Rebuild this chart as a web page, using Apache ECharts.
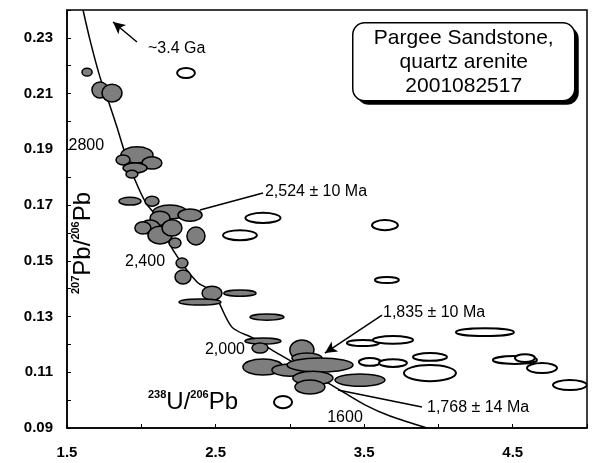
<!DOCTYPE html>
<html>
<head>
<meta charset="utf-8">
<script src="https://cdn.jsdelivr.net/npm/echarts@6/dist/echarts.min.js"></script>
<style>
  html, body { margin: 0; padding: 0; background: #fff; }
  #chart { width: 599px; height: 463px; }
</style>
</head>
<body>
<div id="chart"></div>
<script>
// spots: [238U/206Pb, 207Pb/206Pb, half width x, half width y]
var filledSpots = [
  [1.635, 0.2177, 0.034, 0.0014], [1.722, 0.2113, 0.054, 0.0029], [1.803, 0.2102, 0.067, 0.0032],
  [1.971, 0.1880, 0.108, 0.0029], [1.877, 0.1862, 0.047, 0.0018], [2.072, 0.1851, 0.067, 0.0022],
  [1.958, 0.1833, 0.081, 0.0018], [1.937, 0.1811, 0.040, 0.0014],
  [1.924, 0.1714, 0.074, 0.0014], [2.072, 0.1714, 0.047, 0.0018],
  [2.193, 0.1675, 0.114, 0.0025], [2.328, 0.1664, 0.081, 0.0022], [2.126, 0.1653, 0.067, 0.0025],
  [2.059, 0.1621, 0.067, 0.0025], [2.011, 0.1618, 0.054, 0.0022], [2.126, 0.1592, 0.081, 0.0032],
  [2.207, 0.1618, 0.067, 0.0029], [2.227, 0.1564, 0.040, 0.0018], [2.368, 0.1589, 0.061, 0.0032],
  [2.274, 0.1492, 0.040, 0.0018], [2.281, 0.1442, 0.054, 0.0025], [2.476, 0.1384, 0.067, 0.0025],
  [2.395, 0.1352, 0.141, 0.0011], [2.664, 0.1384, 0.108, 0.0011], [2.846, 0.1298, 0.114, 0.0011],
  [2.819, 0.1212, 0.121, 0.0011], [2.799, 0.1187, 0.054, 0.0018], [3.081, 0.1180, 0.081, 0.0036],
  [2.819, 0.1119, 0.135, 0.0029], [3.000, 0.1108, 0.121, 0.0022], [3.115, 0.1151, 0.101, 0.0018],
  [3.203, 0.1126, 0.222, 0.0025], [3.155, 0.1079, 0.135, 0.0025], [3.135, 0.1047, 0.101, 0.0025],
  [3.472, 0.1072, 0.168, 0.0022]
];
var openSpots = [
  [2.301, 0.2174, 0.060, 0.0018], [2.819, 0.1654, 0.118, 0.0018], [2.664, 0.1592, 0.114, 0.0018],
  [3.640, 0.1628, 0.087, 0.0018], [3.653, 0.1431, 0.081, 0.0011], [2.954, 0.0993, 0.061, 0.0022],
  [3.539, 0.1137, 0.074, 0.0014], [3.694, 0.1133, 0.094, 0.0014], [3.492, 0.1205, 0.108, 0.0011],
  [3.694, 0.1216, 0.135, 0.0014], [4.313, 0.1244, 0.195, 0.0014], [3.943, 0.1155, 0.114, 0.0014],
  [3.943, 0.1097, 0.175, 0.0029], [4.515, 0.1144, 0.148, 0.0014], [4.582, 0.1151, 0.067, 0.0014],
  [4.697, 0.1115, 0.101, 0.0018], [4.885, 0.1054, 0.114, 0.0018]
];
// concordia curve
var concordia = [
  [1.608, 0.2400], [1.655, 0.2292], [1.722, 0.2159], [1.776, 0.2077], [1.836, 0.1980],
  [1.890, 0.1887], [1.958, 0.1790], [2.032, 0.1707], [2.106, 0.1657], [2.213, 0.1539],
  [2.375, 0.1424], [2.483, 0.1388], [2.610, 0.1262], [2.752, 0.1223], [2.900, 0.1173],
  [3.068, 0.1122], [3.203, 0.1079], [3.337, 0.1036], [3.505, 0.0983], [3.674, 0.0943],
  [3.923, 0.0900]
];
var leaderLines = [
  [[2.395, 0.1682], [2.819, 0.1743]],
  [[3.324, 0.1036], [3.889, 0.0975]]
];
var arrowLines = [
  [[1.971, 0.2285], [1.810, 0.2357]],
  [[3.620, 0.1305], [3.236, 0.1169]]
];
var leftNotes = [
  [2.045, 0.2263, '~3.4 Ga'], [1.510, 0.1915, '2800'], [2.832, 0.1747, '2,524 \u00b1 10 Ma'],
  [3.627, 0.1313, '1,835 \u00b1 10 Ma'], [3.923, 0.0972, '1,768 \u00b1 14 Ma']
];
var rightNotes = [
  [2.160, 0.1496, '2,400'], [2.698, 0.1180, '2,000']
];
var centerNotes = [
  [3.371, 0.0936, '1600']
];
var xTicks = [1.5, 2.5, 3.5, 4.5];
var yTicks = [0.09, 0.11, 0.13, 0.15, 0.17, 0.19, 0.21, 0.23];

var chart = echarts.init(document.getElementById('chart'));

function ellipseItem(filled) {
  return function (params, api) {
    var c = api.coord([api.value(0), api.value(1)]);
    var s = api.size([api.value(2), api.value(3)]);
    return {
      type: 'ellipse',
      shape: { cx: c[0], cy: c[1], rx: s[0], ry: s[1] },
      style: {
        fill: filled ? '#7e7e7e' : '#fff',
        stroke: '#000',
        lineWidth: filled ? 1.5 : 2
      }
    };
  };
}

function noteSeries(list, align) {
  return {
    type: 'scatter',
    symbolSize: 0,
    silent: true,
    z: 10,
    itemStyle: { opacity: 1, color: 'transparent' },
    data: list.map(function (n) { return { value: [n[0], n[1]], name: n[2] }; }),
    label: {
      show: true,
      position: 'inside',
      align: align,
      verticalAlign: 'middle',
      formatter: '{b}',
      color: '#000',
      opacity: 1,
      fontFamily: 'Liberation Sans',
      fontSize: 16
    }
  };
}

var markData = leaderLines.map(function (l) {
  return [{ coord: l[0], symbol: 'none' }, { coord: l[1], symbol: 'none' }];
}).concat(arrowLines.map(function (l) {
  return [{ coord: l[0], symbol: 'none' }, { coord: l[1], symbol: 'arrow', symbolSize: [9, 12] }];
}));

chart.setOption({
  animation: false,
  backgroundColor: '#fff',
  grid: { left: 67, right: 12, top: 10, bottom: 35, show: true, borderColor: '#000', borderWidth: 1.5 },
  xAxis: {
    type: 'value', min: 1.5, max: 5.0, interval: 0.5,
    axisLine: { show: true, lineStyle: { color: '#000', width: 1.5 } },
    axisTick: { show: true, inside: true, length: 4, lineStyle: { color: '#000' } },
    splitLine: { show: false },
    axisLabel: {
      margin: 17, color: '#000', fontFamily: 'Liberation Sans', fontWeight: 'bold', fontSize: 15,
      formatter: function (v) {
        var hit = xTicks.some(function (t) { return Math.abs(t - v) < 1e-6; });
        return hit ? v.toFixed(1) : '';
      }
    }
  },
  yAxis: {
    type: 'value', min: 0.09, max: 0.24, interval: 0.01,
    axisLine: { show: true, lineStyle: { color: '#000', width: 1.5 } },
    axisTick: { show: true, inside: true, length: 4, lineStyle: { color: '#000' } },
    splitLine: { show: false },
    axisLabel: {
      margin: 14, color: '#000', fontFamily: 'Liberation Sans', fontWeight: 'bold', fontSize: 15,
      formatter: function (v) {
        var hit = yTicks.some(function (t) { return Math.abs(t - v) < 1e-6; });
        return hit ? v.toFixed(2) : '';
      }
    }
  },
  series: [
    {
      type: 'line',
      data: concordia,
      smooth: 0.3,
      showSymbol: false,
      z: 1,
      lineStyle: { color: '#000', width: 1.5 },
      markLine: {
        silent: true,
        symbol: 'none',
        label: { show: false },
        lineStyle: { color: '#000', width: 1.5, type: 'solid' },
        data: markData
      }
    },
    { type: 'custom', clip: true, z: 3, renderItem: ellipseItem(false), data: openSpots },
    { type: 'custom', clip: true, z: 4, renderItem: ellipseItem(true), data: filledSpots },
    noteSeries(leftNotes, 'left'),
    noteSeries(rightNotes, 'right'),
    noteSeries(centerNotes, 'center')
  ],
  graphic: [
    {
      type: 'group', left: 352, top: 22, z: 20,
      children: [
        { type: 'rect', shape: { x: 4, y: 4, width: 222, height: 78, r: 12 }, style: { fill: '#000' } },
        { type: 'rect', shape: { x: 0, y: 0, width: 222, height: 78, r: 12 }, style: { fill: '#fff', stroke: '#000', lineWidth: 1.5 } },
        {
          type: 'text', x: 111, y: 39,
          style: {
            text: 'Pargee Sandstone,\nquartz arenite\n2001082517',
            align: 'center', verticalAlign: 'middle',
            font: '21px "Liberation Sans"', lineHeight: 24, fill: '#000'
          }
        }
      ]
    },
    {
      type: 'text', left: 148, top: 389, z: 20,
      style: {
        text: '{s|238}{b|U/}{s|206}{b|Pb}',
        rich: {
          s: { fontSize: 11, fontFamily: 'Liberation Sans', fontWeight: 'bold', verticalAlign: 'top', lineHeight: 11, fill: '#000' },
          b: { fontSize: 24, fontFamily: 'Liberation Sans', lineHeight: 26, fill: '#000' }
        }
      }
    },
    {
      type: 'text', x: 70, y: 294, rotation: Math.PI / 2, z: 20,
      style: {
        text: '{s|207}{b|Pb/}{s|206}{b|Pb}',
        rich: {
          s: { fontSize: 11, fontFamily: 'Liberation Sans', fontWeight: 'bold', verticalAlign: 'top', lineHeight: 11, fill: '#000' },
          b: { fontSize: 24, fontFamily: 'Liberation Sans', lineHeight: 26, fill: '#000' }
        }
      }
    }
  ]
});
</script>
</body>
</html>
